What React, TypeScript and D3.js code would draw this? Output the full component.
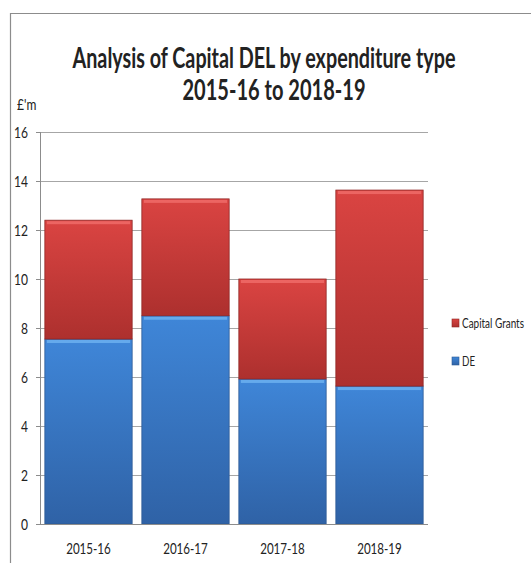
import React from "react";
import * as d3 from "d3";

const categories = ["2015-16", "2016-17", "2017-18", "2018-19"];
const deValues = [7.55, 8.5, 5.92, 5.63];
const grantValues = [4.85, 4.77, 4.08, 8.0];
const seriesNames = ["Capital Grants", "DE"];
const yTicks = [0, 2, 4, 6, 8, 10, 12, 14, 16];

const W = 531;
const H = 563;
const FONT = "Lato, 'Open Sans', sans-serif";

function NText({ x, y, children, anchor = "start", size = 14, sx = 0.86, sy = 1.08, weight = "normal", len }: any) {
  return (
    <g transform={`translate(${x},${y}) scale(${sx},${sy})`}>
      <text textAnchor={anchor} fontFamily={FONT} fontSize={size} fontWeight={weight} fill="#222"
        textLength={len} lengthAdjust={len ? "spacingAndGlyphs" : undefined}>{children}</text>
    </g>
  );
}

export default function App() {
  const x = d3.scaleBand<string>().domain(categories).range([40, 428]).paddingInner(0.1).paddingOuter(0.05);
  const y = d3.scaleLinear().domain([0, 16]).range([524, 132]);

  const rows = categories.map((c, i) => ({ cat: c, DE: deValues[i], Grants: grantValues[i] }));
  const stack = d3.stack<any>().keys(["DE", "Grants"])(rows);

  const fills: Record<string, { g: string; top: string; edge: string }> = {
    DE: { g: "url(#gBlue)", top: "#6cb0f0", edge: "#2c5a95" },
    Grants: { g: "url(#gRed)", top: "#ee6b68", edge: "#8f2624" },
  };

  return (
    <div style={{ position: "fixed", left: 0, top: 0, width: W, height: H, overflow: "hidden" }}>
      <svg width={W} height={H} style={{ display: "block", background: "#fff" }}>
        <defs>
          <linearGradient id="gRed" x1="0" y1="0" x2="0" y2="1">
            <stop offset="0" stopColor="#da4442" />
            <stop offset="1" stopColor="#ad302e" />
          </linearGradient>
          <linearGradient id="gBlue" x1="0" y1="0" x2="0" y2="1">
            <stop offset="0" stopColor="#3f86d8" />
            <stop offset="1" stopColor="#2f62a6" />
          </linearGradient>
        </defs>
        {/* outer border */}
        <path d={`M10.5,${H} L10.5,13.5 L${W},13.5`} fill="none" stroke="#8c8c8c" strokeWidth={1.2} />

        {/* title */}
        <NText x={264} y={68} anchor="middle" size={22} sx={1} sy={1.3} weight="bold" len={383}>
          Analysis of Capital DEL by expenditure type
        </NText>
        <NText x={274} y={100} anchor="middle" size={22} sx={1} sy={1.3} weight="bold" len={183}>
          2015-16 to 2018-19
        </NText>
        <NText x={17} y={110} size={14}>£'m</NText>

        {/* gridlines */}
        {yTicks.filter((t) => t > 0).map((t) => (
          <line key={t} x1={40} x2={428} y1={y(t) + 0.5} y2={y(t) + 0.5} stroke="#a6a6a6" strokeWidth={1} />
        ))}
        {/* y ticks & labels */}
        {yTicks.map((t) => (
          <g key={"t" + t}>
            <line x1={36} x2={40} y1={y(t) + 0.5} y2={y(t) + 0.5} stroke="#8c8c8c" />
            <NText x={28} y={y(t) + 5.5} anchor="end" size={14}>{t}</NText>
          </g>
        ))}

        {/* bars */}
        {stack.map((s) =>
          s.map((d, i) => {
            const bx = x(categories[i])!;
            const bw = x.bandwidth();
            const y0 = y(d[1]);
            const h = y(d[0]) - y(d[1]);
            const f = fills[s.key];
            return (
              <g key={s.key + i}>
                <rect x={bx} y={y0} width={bw} height={h} fill={f.g} stroke={f.edge} strokeWidth={0.8} />
                <rect x={bx + 2} y={y0 + 1} width={bw - 4} height={3} fill={f.top} opacity={0.85} />
              </g>
            );
          })
        )}

        {/* axes lines */}
        <line x1={40.5} x2={40.5} y1={132} y2={525} stroke="#8c8c8c" />
        <line x1={40} x2={428} y1={524.5} y2={524.5} stroke="#8c8c8c" />

        {/* x labels */}
        {categories.map((c) => (
          <NText key={c} x={x(c)! + x.bandwidth() / 2} y={554} anchor="middle" size={13.5}>{c}</NText>
        ))}

        {/* legend */}
        {seriesNames.map((n, i) => (
          <g key={n} transform={`translate(452, ${319 + i * 38})`}>
            <rect width={7} height={8} fill={i === 0 ? "url(#gRed)" : "url(#gBlue)"} stroke={i === 0 ? "#8f2624" : "#2c5a95"} strokeWidth={0.6} />
            <NText x={10} y={9} size={10.5} sx={1} sy={1.35} len={i === 0 ? 62 : 13}>{n}</NText>
          </g>
        ))}
      </svg>
    </div>
  );
}
